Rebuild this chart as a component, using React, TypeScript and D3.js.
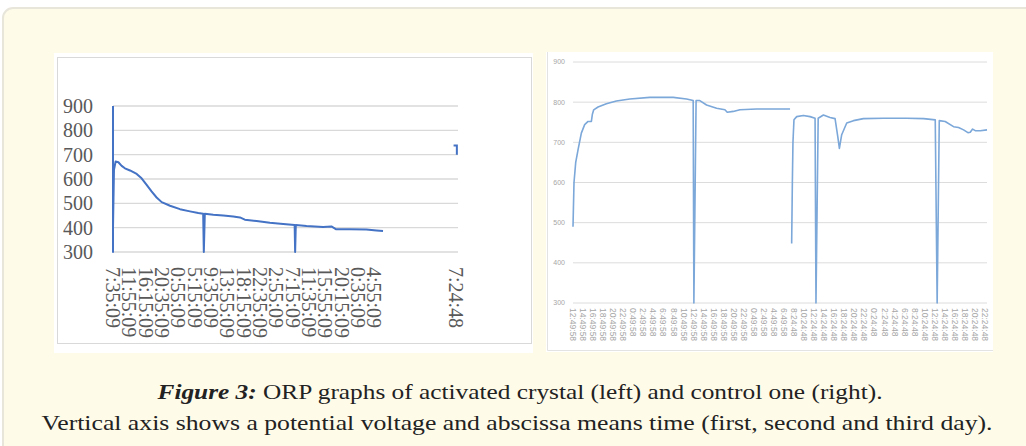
import React, { useEffect, useRef } from 'react';
import * as d3 from 'd3';

// left chart (activated crystal)
const leftTickLabels = ['7:35:09', '11:55:09', '16:15:09', '20:35:09', '0:55:09', '5:15:09', '9:35:09', '13:55:09',
  '18:15:09', '22:35:09', '2:55:09', '7:15:09', '11:35:09', '15:55:09', '20:15:09', '0:35:09', '4:55:09', '7:24:48'];
const leftTickPos = [0, 1, 2, 3, 4, 5, 6, 7, 8, 9, 10, 11, 12, 13, 14, 15, 16, 21];
const yTicks = [300, 400, 500, 600, 700, 800, 900];

const leftPos = [0, 0, 0, 0.06, 0.16, 0.33, 0.53, 0.73, 1.04, 1.45, 1.75, 2.06, 2.36, 2.67, 2.98, 3.49, 4.1, 4.71,
  5.22, 5.52, 5.56, 5.62, 6.14, 6.75, 7.36, 7.77, 8.07, 8.79, 9.6, 10.42, 11.12, 11.15, 11.19, 11.85, 12.86,
  13.37, 13.64, 14.5, 15.51, 16.13, 16.53];
const leftOrp = [900, 300, 400, 638, 672, 669, 654, 644, 635, 621, 603, 576, 549, 524, 505, 490, 476, 467,
  460, 457, 300, 457, 453, 450, 446, 442, 433, 427, 420, 415, 411, 300, 411, 407, 403,
  405, 394, 394, 392, 388, 386];
const leftLatePos = [20.85, 21.05, 21.05];
const leftLateOrp = [738, 738, 700];

// right chart (control)
const rightTickLabels = ['12:49:58', '14:49:58', '16:49:58', '18:49:58', '20:49:58', '22:49:58', '0:49:58', '2:49:58',
  '4:49:58', '6:49:58', '8:49:58', '10:49:58', '12:49:58', '14:49:58', '16:49:58', '18:49:58', '20:49:58', '22:49:58',
  '0:49:58', '2:49:58', '4:49:58', '6:49:58', '8:24:48', '10:24:48', '12:24:48', '14:24:48', '16:24:48', '18:24:48',
  '20:24:48', '22:24:48', '0:24:48', '2:24:48', '4:24:48', '6:24:48', '8:24:48', '10:24:48', '12:24:48', '14:24:48',
  '16:24:48', '18:24:48', '20:24:48', '22:24:48'];

const rightDay1Pos = [0, 0.1, 0.27, 0.5, 0.83, 1.16, 1.5, 1.83, 1.93, 2.06, 2.49, 3.32, 4.32, 5.65, 7.64, 9.97,
  11.3, 11.96, 12.03, 12.25, 12.62, 13.29, 14.29, 15.12, 15.35, 15.95, 16.61, 18.27, 21.6];
const rightDay1Orp = [490, 600, 650, 681, 723, 744, 752, 752, 770, 781, 788, 796, 803, 808, 812, 812,
  808, 804, 300, 804, 804, 793, 785, 781, 775, 777, 781, 783, 783];
const rightDay2Pos = [21.76, 21.83, 21.89, 21.99, 22.26, 22.92, 23.59, 24.09, 24.18, 24.4, 24.92, 25.58, 26.08,
  26.35, 26.51, 26.74, 27.24, 27.91, 28.9, 30.9, 33.2, 34.9, 36.05, 36.24, 36.45, 37.04, 37.87, 38.37, 38.87,
  39.3, 39.53, 39.77, 40.03, 40.53, 41.2];
const rightDay2Orp = [448, 600, 700, 756, 764, 767, 764, 760, 300, 760, 768, 762, 759,
  714, 685, 719, 748, 754, 759, 760, 760, 759, 756, 300, 754, 752, 739, 737, 731,
  724, 725, 733, 729, 729, 731];

const captionTitle = 'Figure 3:';
const captionRest = ' ORP graphs of activated crystal (left) and control one (right).';
const captionLine2 = 'Vertical axis shows a potential voltage and abscissa means time (first, second and third day).';

const zip = (xs: number[], ys: number[]) => xs.map((x, i) => [x, ys[i]] as [number, number]);

export default function App() {
  const ref = useRef<SVGSVGElement>(null);

  useEffect(() => {
    const svg = d3.select(ref.current);
    svg.selectAll('*').remove();

    // cream frame
    svg.append('rect').attr('x', 3).attr('y', 8).attr('width', 1060).attr('height', 480).attr('rx', 10)
      .attr('fill', '#fefbe9').attr('stroke', '#e8e5db').attr('stroke-width', 2);

    // ---- left panel ----
    svg.append('rect').attr('x', 54).attr('y', 53).attr('width', 479).attr('height', 300).attr('fill', '#fff');
    svg.append('rect').attr('x', 57.5).attr('y', 57.5).attr('width', 474).attr('height', 286)
      .attr('fill', 'none').attr('stroke', '#d9d9d9');

    const lx = d3.scaleLinear().domain([0, 21.12]).range([113, 458]);
    const ly = d3.scaleLinear().domain([300, 900]).range([252, 106]);
    const gl = svg.append('g');

    gl.selectAll('.grid').data(yTicks).join('line').attr('class', 'grid')
      .attr('x1', lx(0)).attr('x2', lx(21.12))
      .attr('y1', d => ly(d)).attr('y2', d => ly(d))
      .attr('stroke', '#d9d9d9').attr('stroke-width', 1.3);

    gl.selectAll('.ylab').data(yTicks).join('text').attr('class', 'ylab')
      .attr('x', 93).attr('y', d => ly(d)).attr('dy', '0.35em')
      .style('text-anchor', 'end').style('font-family', 'Liberation Serif').style('font-size', '20px')
      .attr('fill', '#595959').text(d => d);

    gl.selectAll('.xlab').data(leftTickLabels).join('text').attr('class', 'xlab')
      .attr('transform', (d, i) => `translate(${lx(leftTickPos[i])}, 267) rotate(90)`)
      .attr('dy', '0.35em')
      .style('font-family', 'Liberation Serif').style('font-size', '20px')
      .attr('fill', '#595959').text(d => d);

    const leftLine = d3.line<[number, number]>().x(d => lx(d[0])).y(d => ly(d[1]));
    gl.append('path').attr('d', leftLine(zip(leftPos, leftOrp)))
      .attr('fill', 'none').attr('stroke', '#4472c4').attr('stroke-width', 2).attr('stroke-linejoin', 'round');
    gl.append('path').attr('d', leftLine(zip(leftLatePos, leftLateOrp)))
      .attr('fill', 'none').attr('stroke', '#4472c4').attr('stroke-width', 2);

    // ---- right panel ----
    svg.append('rect').attr('x', 546).attr('y', 52).attr('width', 447).attr('height', 300).attr('fill', '#fff');
    svg.append('line').attr('x1', 547.5).attr('x2', 547.5).attr('y1', 52).attr('y2', 350.5).attr('stroke', '#e3e3e3');
    svg.append('line').attr('x1', 547.5).attr('x2', 993).attr('y1', 350.5).attr('y2', 350.5).attr('stroke', '#e3e3e3');

    const rx = d3.scaleLinear().domain([0, 41.2]).range([573, 987]);
    const ry = d3.scaleLinear().domain([300, 900]).range([303, 62]);
    const gr = svg.append('g');

    gr.selectAll('.grid').data(yTicks).join('line').attr('class', 'grid')
      .attr('x1', rx(0)).attr('x2', rx(41.2))
      .attr('y1', d => ry(d)).attr('y2', d => ry(d))
      .attr('stroke', '#dcdcdc').attr('stroke-width', 1);

    gr.selectAll('.ylab').data(yTicks).join('text').attr('class', 'ylab')
      .attr('x', 565).attr('y', d => ry(d)).attr('dy', '0.35em')
      .style('text-anchor', 'end').style('font-family', 'Liberation Sans').style('font-size', '7px')
      .attr('fill', '#a6a6a6').text(d => d);

    gr.selectAll('.xlab').data(rightTickLabels).join('text').attr('class', 'xlab')
      .attr('transform', (d, i) => `translate(${rx(i)}, 308) rotate(90)`)
      .attr('dy', '0.35em')
      .style('font-family', 'Liberation Sans').style('font-size', '8.5px')
      .attr('fill', '#a6a6a6').text(d => d);

    const rightLine = d3.line<[number, number]>().x(d => rx(d[0])).y(d => ry(d[1]));
    [zip(rightDay1Pos, rightDay1Orp), zip(rightDay2Pos, rightDay2Orp)].forEach(seg => {
      gr.append('path').attr('d', rightLine(seg))
        .attr('fill', 'none').attr('stroke', '#7ba7d9').attr('stroke-width', 1.6).attr('stroke-linejoin', 'round');
    });

    // ---- caption ----
    const cap = svg.append('text').attr('x', 520).attr('y', 399).attr('text-anchor', 'middle')
      .attr('textLength', 725).attr('lengthAdjust', 'spacingAndGlyphs')
      .style('font-family', 'Liberation Serif').style('font-size', '21px').attr('fill', '#222');
    cap.append('tspan').style('font-weight', 'bold').style('font-style', 'italic').text(captionTitle);
    cap.append('tspan').text(captionRest);

    svg.append('text').attr('x', 517).attr('y', 430).attr('text-anchor', 'middle')
      .attr('textLength', 951).attr('lengthAdjust', 'spacingAndGlyphs')
      .style('font-family', 'Liberation Serif').style('font-size', '21px').attr('fill', '#222')
      .text(captionLine2);
  }, []);

  return <svg ref={ref} width={1026} height={446} style={{ position: 'absolute', left: 0, top: 0 }} />;
}
